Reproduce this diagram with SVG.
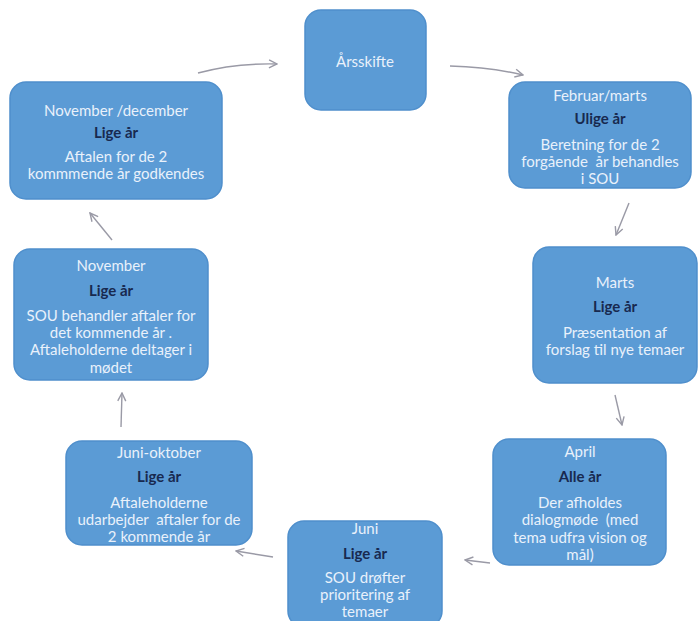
<svg xmlns="http://www.w3.org/2000/svg" width="698" height="621" viewBox="0 0 698 621">
<defs>
<marker id="arr" viewBox="0 0 10 10" refX="9" refY="5" markerWidth="10" markerHeight="10" markerUnits="userSpaceOnUse" orient="auto">
<path d="M1,1 L9,5 L1,9" fill="none" stroke="#9a9aa6" stroke-width="1.4"/>
</marker>
<style>
.box{fill:#5b9bd5;stroke:#4f8fcc;stroke-width:1.5}
text{font-family:Lato,"Liberation Sans",sans-serif;font-size:15px;text-anchor:middle;dominant-baseline:central;white-space:pre}
.t{fill:#e9f1fb}
.b{fill:#18294f;font-weight:bold}
.c{fill:none;stroke:#9a9aa6;stroke-width:1.4;marker-end:url(#arr)}
</style>
</defs>
<rect width="698" height="621" fill="#ffffff"/>
<g id="connectors">
<path class="c" d="M198,73 Q235,63 277,64"/>
<path class="c" d="M450,66 Q490,67 523,75"/>
<path class="c" d="M629,203 L616,235"/>
<path class="c" d="M615,395 L622,425"/>
<path class="c" d="M490,563 L465,560"/>
<path class="c" d="M273,557 L236,551"/>
<path class="c" d="M121,427 L122,393"/>
<path class="c" d="M112,240 L90,213"/>
</g>
<g id="arsskifte">
<rect class="box" x="305" y="10" width="121" height="100" rx="16"/>
<text class="t" x="365" y="61">Årsskifte</text>
</g>
<g id="februar">
<rect class="box" x="509" y="82" width="182" height="106" rx="16"/>
<text class="t" x="600" y="95">Februar/marts</text>
<text class="b" x="600" y="118">Ulige år</text>
<text class="t" x="600" y="144">Beretning for de 2</text>
<text class="t" x="600" y="161" xml:space="preserve">forgående  år behandles</text>
<text class="t" x="600" y="178">i SOU</text>
</g>
<g id="marts">
<rect class="box" x="533" y="247" width="164" height="136" rx="16"/>
<text class="t" x="615" y="282">Marts</text>
<text class="b" x="615" y="306">Lige år</text>
<text class="t" x="615" y="332">Præsentation af</text>
<text class="t" x="615" y="349">forslag til nye temaer</text>
</g>
<g id="april">
<rect class="box" x="493" y="439" width="173" height="126" rx="16"/>
<text class="t" x="580" y="451">April</text>
<text class="b" x="580" y="476">Alle år</text>
<text class="t" x="580" y="502">Der afholdes</text>
<text class="t" x="580" y="519" xml:space="preserve">dialogmøde  (med</text>
<text class="t" x="580" y="537">tema udfra vision og</text>
<text class="t" x="580" y="554">mål)</text>
</g>
<g id="juni">
<rect class="box" x="288" y="521" width="154" height="106" rx="16"/>
<text class="t" x="365" y="528">Juni</text>
<text class="b" x="365" y="553">Lige år</text>
<text class="t" x="365" y="577">SOU drøfter</text>
<text class="t" x="365" y="594">prioritering af</text>
<text class="t" x="365" y="611">temaer</text>
</g>
<g id="juni-oktober">
<rect class="box" x="66" y="441" width="186" height="104" rx="16"/>
<text class="t" x="159" y="452">Juni-oktober</text>
<text class="b" x="159" y="476">Lige år</text>
<text class="t" x="159" y="502">Aftaleholderne</text>
<text class="t" x="159" y="519" xml:space="preserve">udarbejder  aftaler for de</text>
<text class="t" x="159" y="536">2 kommende år</text>
</g>
<g id="november">
<rect class="box" x="14" y="249" width="194" height="131" rx="16"/>
<text class="t" x="111" y="265">November</text>
<text class="b" x="111" y="290">Lige år</text>
<text class="t" x="111" y="315">SOU behandler aftaler for</text>
<text class="t" x="111" y="332">det kommende år .</text>
<text class="t" x="111" y="349">Aftaleholderne deltager i</text>
<text class="t" x="111" y="367">mødet</text>
</g>
<g id="november-december">
<rect class="box" x="10" y="82" width="212" height="117" rx="16"/>
<text class="t" x="116" y="110">November /december</text>
<text class="b" x="116" y="132">Lige år</text>
<text class="t" x="116" y="156">Aftalen for de 2</text>
<text class="t" x="116" y="173">kommmende år godkendes</text>
</g>
</svg>
